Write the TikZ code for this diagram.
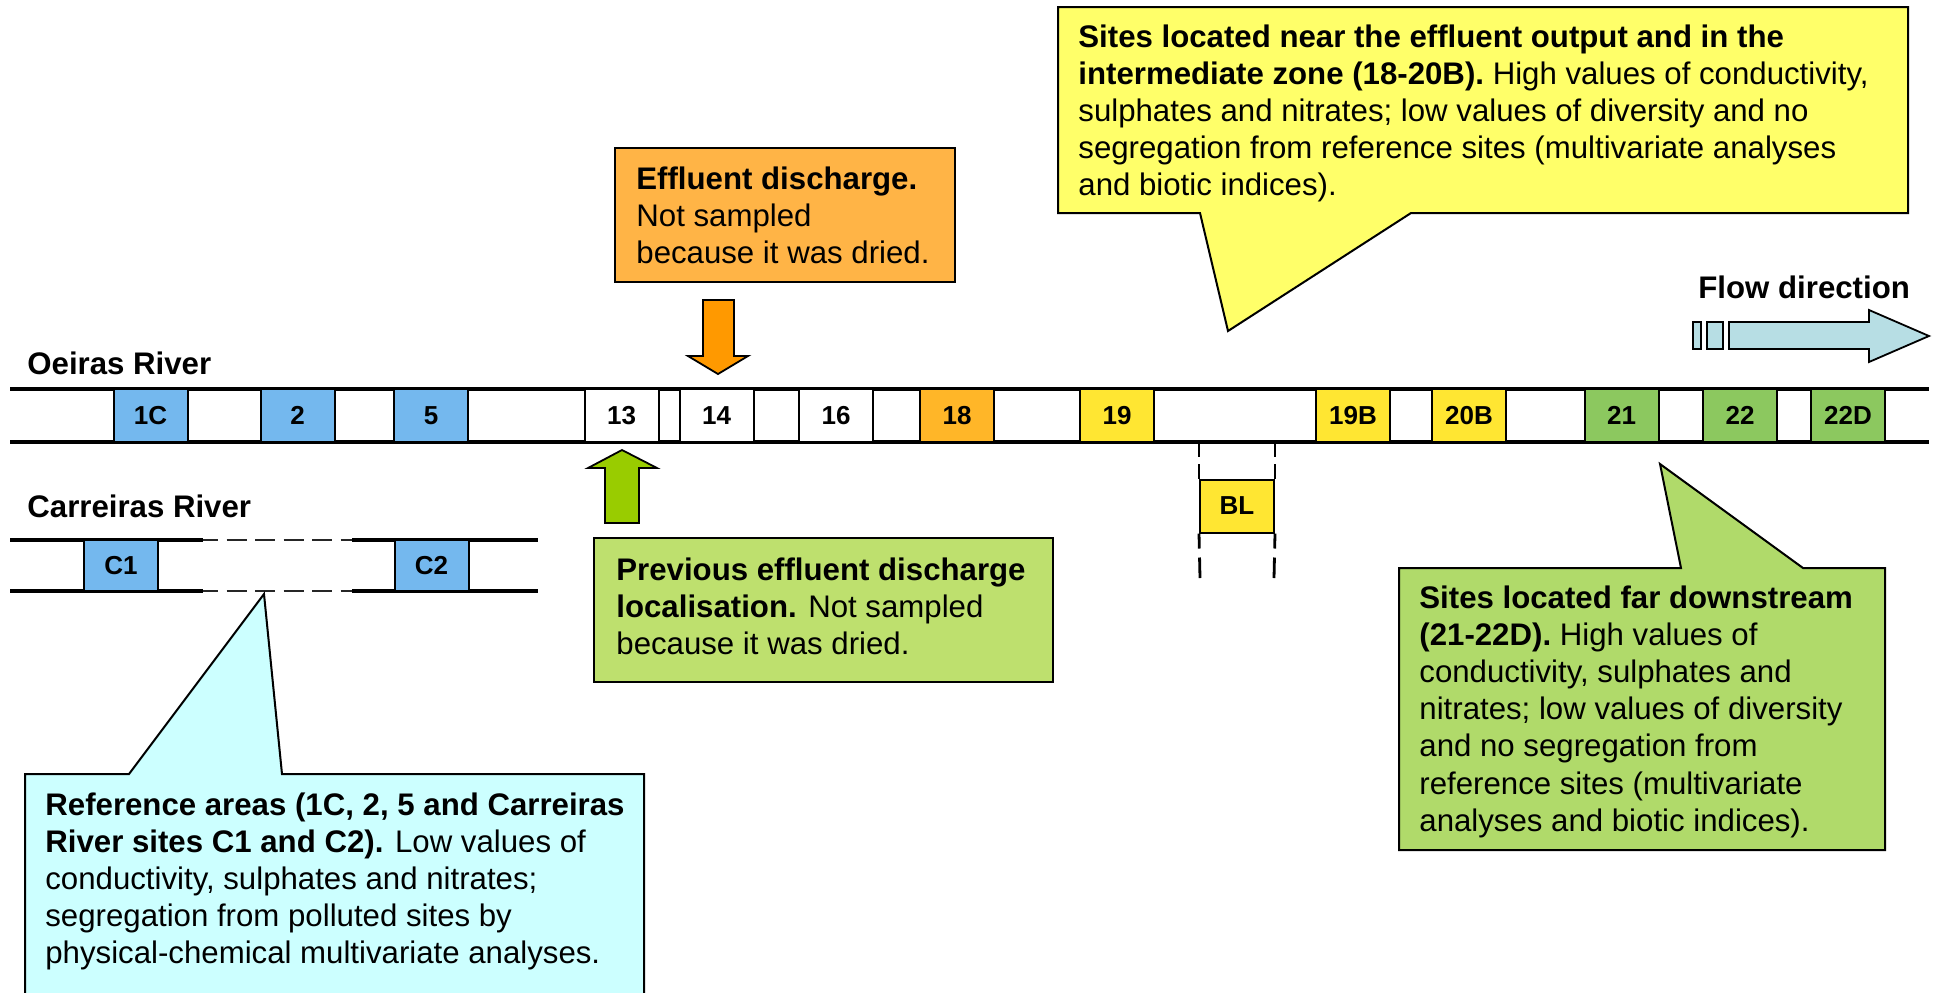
\documentclass[tikz,border=0pt]{standalone}
\usepackage{fontspec}
\setmainfont{Liberation Sans}
\definecolor{siteblue}{RGB}{116,184,238}
\definecolor{siteorange}{RGB}{255,182,40}
\definecolor{siteyellow}{RGB}{255,230,50}
\definecolor{sitegreen}{RGB}{140,200,95}
\definecolor{calloutorange}{RGB}{255,180,70}
\definecolor{calloutyellow}{RGB}{255,255,105}
\definecolor{calloutgreen}{RGB}{176,218,106}
\definecolor{prevgreen}{RGB}{190,224,110}
\definecolor{calloutcyan}{RGB}{204,255,255}
\definecolor{arroworange}{RGB}{255,153,0}
\definecolor{arrowgreen}{RGB}{153,204,0}
\definecolor{flowcyan}{RGB}{183,222,228}
\newcommand\bodyfont{\fontsize{15.6}{18.6}\selectfont}
\begin{document}
\begin{tikzpicture}[x=0.5pt,y=-0.5pt,
  river/.style={line width=1.6pt},
  riverdash/.style={line width=1.4pt, black!85, dash pattern=on 10pt off 4.25pt, dash phase=2.5pt},
  site/.style={draw=black, line width=1pt, minimum width=37pt, minimum height=26.5pt,
    inner sep=0pt, font=\fontsize{13}{15}\selectfont\bfseries},
  csite/.style={site, minimum height=25.5pt},
  callout/.style={draw=black, line width=1pt},
  blockarrow/.style={draw=black, line width=0.9pt, line join=miter},
  guide/.style={line width=1.4pt, dash pattern=on 7.5pt off 3.5pt},
  guidelow/.style={line width=1.4pt, dash pattern=on 7.5pt off 4.5pt on 11pt off 4pt},
  label/.style={anchor=base west, inner sep=0pt, font=\bodyfont\bfseries},
  body/.style={anchor=base west, inner sep=0pt}]
\useasboundingbox (0,0) rectangle (1943,992);
\clip (0,0) rectangle (1943,992);

% ---------- Oeiras River ----------
\coordinate (oTL) at (10,389);
\coordinate (oTR) at (1929,389);
\coordinate (oBL) at (10,442);
\coordinate (oBR) at (1929,442);
\draw[river] (oTL) -- (oTR);
\draw[river] (oBL) -- (oBR);
\node[label] (oeiras) at (27,374) {Oeiras River};

\node[site, fill=siteblue]   (s1C)  at (150.5,415.5) {1C};
\node[site, fill=siteblue]   (s2)   at (297.5,415.5) {2};
\node[site, fill=siteblue]   (s5)   at (431,415.5)   {5};
\node[site, fill=white]      (s13)  at (621.5,415.5) {13};
\node[site, fill=white]      (s14)  at (716.5,415.5) {14};
\node[site, fill=white]      (s16)  at (836,415.5)   {16};
\node[site, fill=siteorange] (s18)  at (957,415.5)   {18};
\node[site, fill=siteyellow] (s19)  at (1117,415.5)  {19};
\node[site, fill=siteyellow] (s19B) at (1353,415.5)  {19B};
\node[site, fill=siteyellow] (s20B) at (1469,415.5)  {20B};
\node[site, fill=sitegreen]  (s21)  at (1621.5,415.5) {21};
\node[site, fill=sitegreen]  (s22)  at (1740,415.5)  {22};
\node[site, fill=sitegreen]  (s22D) at (1848,415.5)  {22D};

% BL site below the river, linked by dashed guides
\node[site, fill=siteyellow] (sBL) at (1237,506) {BL};
\draw[guide] (sBL.north west) -- (sBL.north west |- oBL);
\draw[guide] (sBL.north east) -- (sBL.north east |- oBL);
\coordinate (blEndL) at (1200,578);
\coordinate (blEndR) at (1274,578);
\draw[guidelow] (sBL.south west) -- (blEndL);
\draw[guidelow] (sBL.south east) -- (blEndR);

% ---------- Carreiras River ----------
\node[label] (carreiras) at (27,517) {Carreiras River};
\coordinate (cT0) at (10,540);  \coordinate (cT1) at (203,540);
\coordinate (cT2) at (352,540); \coordinate (cT3) at (538,540);
\coordinate (cB0) at (10,591);  \coordinate (cB1) at (203,591);
\coordinate (cB2) at (352,591); \coordinate (cB3) at (538,591);
\draw[river] (cT0) -- (cT1); \draw[riverdash] (cT1) -- (cT2); \draw[river] (cT2) -- (cT3);
\draw[river] (cB0) -- (cB1); \draw[riverdash] (cB1) -- (cB2); \draw[river] (cB2) -- (cB3);
\node[csite, fill=siteblue] (sC1) at (121,565.5) {C1};
\node[csite, fill=siteblue] (sC2) at (431.5,565.5) {C2};

% ---------- Effluent discharge ----------
\draw[callout, fill=calloutorange] (615,148) rectangle (955,282);
\node[body] (efftext) at (636,189) {\parbox[t]{170pt}{\raggedright\bodyfont
  \textbf{Effluent discharge.}\\ Not sampled\\ because it was dried.}};
\draw[blockarrow, fill=arroworange]
  (703,300) -- (734,300) -- (734,356) -- (748,356) -- (718,374) -- (688,356) -- (703,356) -- cycle;

% ---------- Previous discharge ----------
\draw[blockarrow, fill=arrowgreen]
  (605,523) -- (639,523) -- (639,468) -- (657,468) -- (622,450) -- (588,468) -- (605,468) -- cycle;
\draw[callout, fill=prevgreen] (594,538) rectangle (1053,682);
\node[body] (prevtext) at (616,580) {\parbox[t]{230pt}{\raggedright\bodyfont
  \textbf{Previous effluent discharge}\\ \textbf{localisation.} Not sampled\\ because it was dried.}};

% ---------- Intermediate zone callout ----------
\draw[callout, fill=calloutyellow]
  (1058,7) -- (1908,7) -- (1908,213) -- (1411,213) -- (1228,331) -- (1200,213) -- (1058,213) -- cycle;
\node[body] (midtext) at (1078,47) {\parbox[t]{425pt}{\raggedright\bodyfont
  \textbf{Sites located near the effluent output and in the}\\
  \textbf{intermediate zone (18-20B).} High values of conductivity,\\
  sulphates and nitrates; low values of diversity and no\\
  segregation from reference sites (multivariate analyses\\
  and biotic indices).}};

% ---------- Far downstream callout ----------
\draw[callout, fill=calloutgreen]
  (1399,568) -- (1681,568) -- (1660,464) -- (1803,568) -- (1885,568) -- (1885,850) -- (1399,850) -- cycle;
\node[body] (fartext) at (1419,608) {\parbox[t]{240pt}{\raggedright\bodyfont
  \textbf{Sites located far downstream}\\
  \textbf{(21-22D).} High values of\\
  conductivity, sulphates and\\
  nitrates; low values of diversity\\
  and no segregation from\\
  reference sites (multivariate\\
  analyses and biotic indices).}};

% ---------- Reference areas callout ----------
\draw[callout, fill=calloutcyan]
  (25,1010) -- (25,774) -- (129,774) -- (264,594) -- (282,774) -- (644,774) -- (644,1010);
\node[body] (reftext) at (45,815) {\parbox[t]{300pt}{\raggedright\bodyfont
  \textbf{Reference areas (1C, 2, 5 and Carreiras}\\
  \textbf{River sites C1 and C2).} Low values of\\
  conductivity, sulphates and nitrates;\\
  segregation from polluted sites by\\
  physical-chemical multivariate analyses.}};

% ---------- Flow direction ----------
\node[label] (flowlabel) at (1698,298) {Flow direction};
\draw[blockarrow, fill=flowcyan] (1693,322) rectangle (1701,349);
\draw[blockarrow, fill=flowcyan] (1707,322) rectangle (1723,349);
\draw[blockarrow, fill=flowcyan]
  (1729,322) -- (1869,322) -- (1869,310) -- (1929,336) -- (1869,362) -- (1869,349) -- (1729,349) -- cycle;
\end{tikzpicture}
\end{document}
